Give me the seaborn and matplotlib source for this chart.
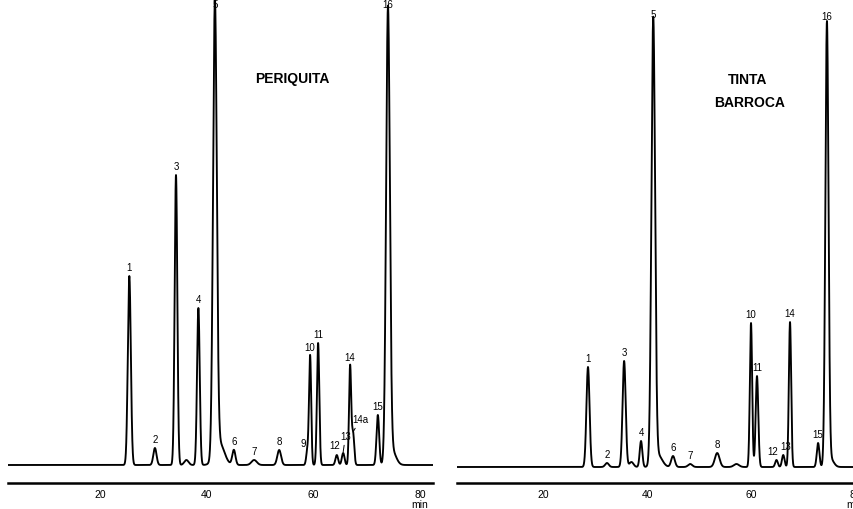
import numpy as np
import pandas as pd
import matplotlib
matplotlib.use("Agg")
import matplotlib.pyplot as plt
import seaborn as sns

# Peak tables.
# rt = retention time (min), height = response above baseline, sd = peak width (min)
periquita_rt = [25.5, 30.3, 34.25, 36.2, 38.45, 41.55, 42.4, 45.1, 48.9, 53.6,
                58.9, 59.4, 60.9, 64.4, 65.6, 66.9, 67.45, 72.1, 74.0, 74.8]
periquita_height = [189, 17, 290, 5, 157, 452, 22, 15, 5, 15,
                    15, 109, 122, 10, 12, 99, 32, 50, 452, 14]
periquita_sd = [0.28, 0.3, 0.25, 0.4, 0.25, 0.35, 0.9, 0.3, 0.5, 0.35,
                0.22, 0.2, 0.22, 0.25, 0.25, 0.2, 0.22, 0.25, 0.35, 0.7]
periquita_label = ["1", "2", "3", "", "4", "5", "", "6", "7", "8",
                   "9", "10", "11", "12", "13", "14", "14a", "15", "16", ""]

barroca_rt = [28.65, 32.3, 35.6, 37.0, 38.85, 41.2, 42.1, 45.0, 48.3, 53.5,
              57.2, 60.0, 61.15, 64.9, 66.2, 67.5, 72.9, 74.6, 75.3]
barroca_height = [100, 4, 106, 5, 26, 444, 12, 11, 3, 14,
                  3, 144, 91, 7, 12, 145, 24, 442, 8]
barroca_sd = [0.3, 0.35, 0.3, 0.4, 0.25, 0.35, 0.8, 0.35, 0.4, 0.45,
              0.5, 0.22, 0.25, 0.25, 0.25, 0.22, 0.25, 0.3, 0.6]
barroca_label = ["1", "2", "3", "", "4", "5", "", "6", "7", "8",
                 "", "10", "11", "12", "13", "14", "15", "16", ""]

ticks = [20, 40, 60, 80]
tick_labels = ["20", "40", "60", "80\nmin"]

# label nudges (dx in min, dy in response units, leader line?)
periquita_nudge = {"9": (-0.75, -2, False), "12": (-0.4, 1, False),
                   "13": (0.4, 8, True), "14a": (1.3, 5, True)}
barroca_nudge = {"12": (-0.75, 0, False), "13": (0.4, 0, False)}

sns.set_style("white")
plt.rcParams["font.family"] = ["Liberation Sans", "DejaVu Sans"]
plt.rcParams["text.color"] = "black"
plt.rcParams["xtick.color"] = "black"

W, H = 854, 509
fig = plt.figure(figsize=(W / 100, H / 100), dpi=100)
YTOP = 483


def make_axes(px_left, px_right, xlo, px_per_min):
    ax = fig.add_axes([px_left / W, 26 / H, (px_right - px_left) / W, YTOP / H])
    ax.set_xlim(xlo, xlo + (px_right - px_left) / px_per_min)
    ax.set_ylim(0, YTOP)
    return ax


def draw(ax, rt, height, sd, labels, nudge, base):
    t = np.linspace(*ax.get_xlim(), 6000)
    signal = np.full_like(t, base, dtype=float)
    for r, h, s in zip(rt, height, sd):
        signal += h * np.exp(-0.5 * ((t - r) / s) ** 2)
    df = pd.DataFrame({"time": t, "signal": signal})
    sns.lineplot(data=df, x="time", y="signal", ax=ax, color="black", lw=1.35)

    for r, h, lab in zip(rt, height, labels):
        if not lab:
            continue
        dx, dy, leader = nudge.get(lab, (0, 0, False))
        top = base + h
        y = min(top + 3, YTOP - 10) + dy
        if leader:
            ax.annotate(lab, xy=(r, top + 1), xytext=(r + dx, y),
                        ha="center", va="bottom", fontsize=7,
                        arrowprops=dict(arrowstyle="-", lw=0.7, color="black",
                                        shrinkA=0, shrinkB=0))
        else:
            ax.text(r + dx, y, lab, ha="center", va="bottom", fontsize=7)

    sns.despine(ax=ax, left=True)
    ax.spines["bottom"].set_linewidth(1.8)
    ax.spines["bottom"].set_color("black")
    ax.set_yticks([])
    ax.set_xticks(ticks)
    ax.set_xticklabels(tick_labels, fontsize=7.5, linespacing=0.95)
    ax.tick_params(axis="x", direction="out", length=4, width=1,
                   color="black", pad=1)
    ax.set_xlabel("")
    ax.set_ylabel("")


ax1 = make_axes(8, 433, 2.75, 5.333)
draw(ax1, periquita_rt, periquita_height, periquita_sd, periquita_label,
     periquita_nudge, base=18)
ax1.text(56.0, 404, "PERIQUITA", ha="center", va="center",
         fontsize=10, fontweight="bold")

ax2 = make_axes(457, 862, 3.46, 5.2)
draw(ax2, barroca_rt, barroca_height, barroca_sd, barroca_label,
     barroca_nudge, base=16)
ax2.text(59.4, 403, "TINTA", ha="center", va="center",
         fontsize=10, fontweight="bold")
ax2.text(59.8, 380, "BARROCA", ha="center", va="center",
         fontsize=10, fontweight="bold")

fig.savefig("out.png", dpi=100)
plt.close(fig)
